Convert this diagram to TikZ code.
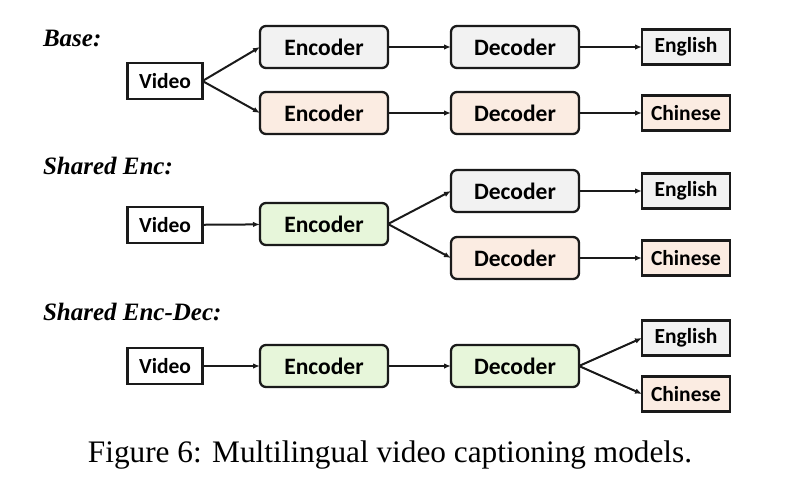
\documentclass[tikz,border=0pt]{standalone}
\usepackage{fontspec}
\setmainfont{Liberation Serif}
\newfontfamily\boxfont{Carlito}
\usetikzlibrary{arrows.meta}
\definecolor{cgray}{HTML}{F2F2F2}
\definecolor{cpeach}{HTML}{FBECE2}
\definecolor{cgreen}{HTML}{E7F6DA}
\definecolor{cline}{HTML}{1A1A1A}
\tikzset{
  every node/.style={inner sep=0pt, outer sep=0pt},
  bigbox/.style={draw=cline, line width=2.3pt, rounded corners=6pt, minimum width=128pt, minimum height=42pt, font=\boxfont\bfseries\fontsize{23.5}{26}\selectfont},
  smallbox/.style={draw=cline, line width=2.1pt, minimum height=35pt, font=\boxfont\bfseries\fontsize{21.5}{24}\selectfont},
  vidbox/.style={smallbox, fill=white, minimum width=75pt, minimum height=36pt},
  langbox/.style={smallbox, minimum width=88pt},
  title/.style={anchor=west, font=\bfseries\itshape\fontsize{25}{28}\selectfont},
  arr/.style={draw=cline, line width=2pt, -{Latex[length=7pt,width=5.5pt]}},
}
\begin{document}
\begin{tikzpicture}[x=1pt,y=-1pt]
\useasboundingbox (0,0) rectangle (790,488);
% Base
\node[title] (t1) at (43,38) {Base:};
\node[vidbox] (v1) at (165,81) {Video};
\node[bigbox, fill=cgray] (e1a) at (324,47) {Encoder};
\node[bigbox, fill=cpeach] (e1b) at (324,113) {Encoder};
\node[bigbox, fill=cgray] (d1a) at (515,47) {Decoder};
\node[bigbox, fill=cpeach] (d1b) at (515,113) {Decoder};
\node[langbox, fill=cgray] (l1a) at (686,47) {English};
\node[langbox, fill=cpeach] (l1b) at (686,113) {Chinese};
\draw[arr] (v1.east) -- (e1a.west);
\draw[arr] (v1.east) -- (e1b.west);
\draw[arr] (e1a) -- (d1a);
\draw[arr] (e1b) -- (d1b);
\draw[arr] (d1a) -- (l1a);
\draw[arr] (d1b) -- (l1b);
% Shared Enc
\node[title] (t2) at (43,166) {Shared Enc:};
\node[vidbox] (v2) at (165,225) {Video};
\node[bigbox, fill=cgreen] (e2) at (324,224) {Encoder};
\node[bigbox, fill=cgray] (d2a) at (515,191) {Decoder};
\node[bigbox, fill=cpeach] (d2b) at (515,258) {Decoder};
\node[langbox, fill=cgray] (l2a) at (686,191) {English};
\node[langbox, fill=cpeach] (l2b) at (686,258) {Chinese};
\draw[arr] (v2) -- (e2);
\draw[arr] (e2.east) -- (d2a.west);
\draw[arr] (e2.east) -- (d2b.west);
\draw[arr] (d2a) -- (l2a);
\draw[arr] (d2b) -- (l2b);
% Shared Enc-Dec
\node[title] (t3) at (43,312) {Shared Enc-Dec:};
\node[vidbox] (v3) at (165,366) {Video};
\node[bigbox, fill=cgreen] (e3) at (324,366) {Encoder};
\node[bigbox, fill=cgreen] (d3) at (515,366) {Decoder};
\node[langbox, fill=cgray] (l3a) at (686,338) {English};
\node[langbox, fill=cpeach] (l3b) at (686,394) {Chinese};
\draw[arr] (v3) -- (e3);
\draw[arr] (e3) -- (d3);
\draw[arr] (d3.east) -- (l3a.west);
\draw[arr] (d3.east) -- (l3b.west);
% caption
\node[font=\fontsize{31.3}{35}\selectfont] (cap) at (390,455) {Figure 6: Multilingual video captioning models.};
\end{tikzpicture}
\end{document}
